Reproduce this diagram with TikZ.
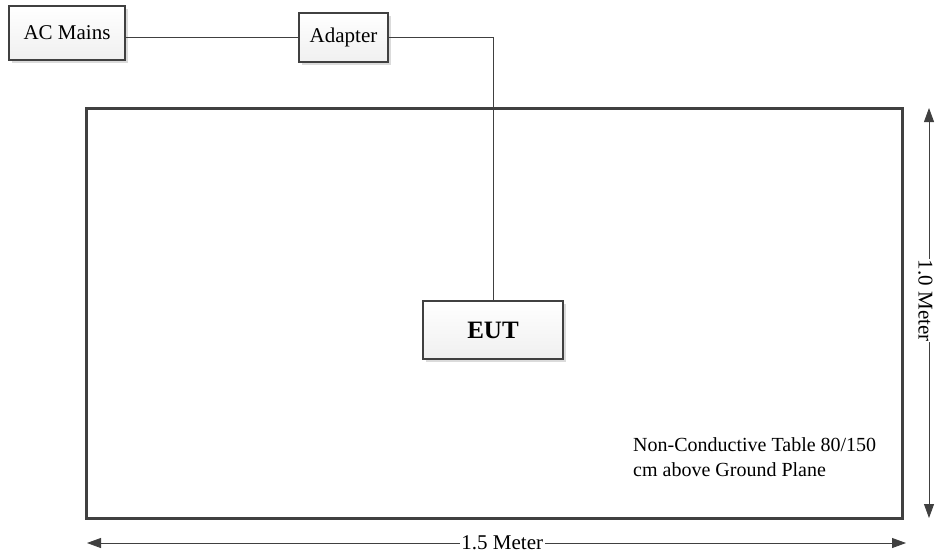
\documentclass[tikz,border=0pt]{standalone}
\usepackage{fontspec}
\setmainfont{Liberation Serif}
\usetikzlibrary{arrows.meta,shadows,calc}
\definecolor{edge}{HTML}{404040}
\tikzset{
  txt/.style={font=\fontsize{21}{24}\selectfont},
  box/.style={draw=edge, line width=2pt, top color=white, bottom color=black!6,
    drop shadow={shadow xshift=3pt, shadow yshift=-3pt, fill=black!14, opacity=1},
    inner sep=0pt, txt},
  tablebox/.style={draw=edge, line width=3pt, fill=white,
    drop shadow={shadow xshift=2pt, shadow yshift=-2pt, fill=black!14, opacity=1},
    inner sep=0pt},
  wire/.style={draw=edge, line width=0.9pt},
  dimarrow/.style={draw=edge, line width=0.8pt,
    {Triangle[length=14pt,width=10pt]}-{Triangle[length=14pt,width=10pt]}},
  dimlabel/.style={fill=white, inner sep=1.5pt, txt}
}
\begin{document}
\begin{tikzpicture}[x=1pt,y=-1pt]
\useasboundingbox (0,0) rectangle (936,558);
% table
\node[tablebox, minimum width=816pt, minimum height=410pt] (tbl) at (494,313) {};
% boxes
\node[box, minimum width=116pt, minimum height=54pt] (acm) at (67,33) {AC Mains};
\node[box, minimum width=89pt, minimum height=49pt] (adp) at (343.5,37.5) {Adapter};
\node[box, minimum width=140pt, minimum height=58pt, font=\fontsize{25}{28}\selectfont\bfseries] (eut) at (493,330) {EUT};
% wires
\draw[wire] (acm.east |- adp.west) -- (adp.west);
\draw[wire] (adp.east) -| (eut.north);
% note
\node[anchor=base west, align=left, inner sep=0pt, font=\fontsize{20}{24.5}\selectfont] (note) at (633,476) {Non-Conductive Table 80/150\\cm above Ground Plane};
% dimension arrows
\coordinate (hl) at (87,543);
\coordinate (hr) at (906,543);
\coordinate (vt) at (929,108);
\coordinate (vb) at (929,518);
\draw[dimarrow] (hl) -- node[dimlabel, pos=0.507] (wlab) {1.5 Meter} (hr);
\draw[dimarrow] (vt) -- (vb);
\node[dimlabel, inner sep=0.5pt, rotate=-90] (hlab) at ($(vt)!0.47!(vb)+(-3.5,0)$) {1.0 Meter};
\end{tikzpicture}
\end{document}
